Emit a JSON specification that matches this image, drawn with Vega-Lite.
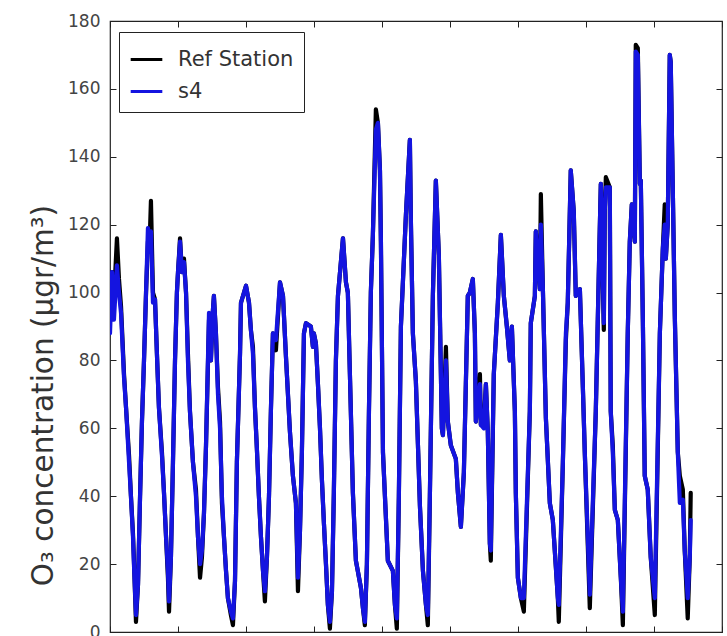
{
  "$schema": "https://vega.github.io/schema/vega-lite/v6.json",
  "width": 612,
  "height": 611,
  "autosize": {"type": "none"},
  "padding": {"left": 110, "top": 21, "right": 5, "bottom": 10},
  "background": "white",
  "config": {"view": {"stroke": "#222222", "strokeWidth": 1.2}, "font": "DejaVu Sans"},
  "data": {"values": [
    {"h":0,"s4":88,"ref":100},{"h":1.5,"s4":106,"ref":106},{"h":2.9,"s4":92,"ref":98},{"h":5.1,"s4":108,"ref":116},{"h":6.6,"s4":100,"ref":104},{"h":8.1,"s4":94,"ref":96},{"h":10.3,"s4":75,"ref":76},{"h":11.8,"s4":66,"ref":66},{"h":14.0,"s4":50,"ref":52},{"h":15.4,"s4":40,"ref":40},{"h":16.9,"s4":28,"ref":29},{"h":17.6,"s4":20,"ref":21},{"h":19.1,"s4":5,"ref":3},{"h":20.6,"s4":14,"ref":14},{"h":22.1,"s4":40,"ref":40},{"h":23.5,"s4":62,"ref":62},{"h":25.0,"s4":80,"ref":80},{"h":26.5,"s4":100,"ref":100},{"h":27.9,"s4":119,"ref":115},{"h":29.4,"s4":112,"ref":118},{"h":30.1,"s4":118,"ref":127},{"h":31.6,"s4":97,"ref":100},{"h":33.1,"s4":98,"ref":98},{"h":34.5,"s4":82,"ref":82},{"h":36.0,"s4":66,"ref":66},{"h":38.2,"s4":52,"ref":53},{"h":39.7,"s4":41,"ref":41},{"h":41.2,"s4":28,"ref":28},{"h":42.6,"s4":18,"ref":16},{"h":43.4,"s4":9,"ref":6},{"h":44.8,"s4":22,"ref":22},{"h":46.3,"s4":50,"ref":50},{"h":47.8,"s4":80,"ref":80},{"h":49.2,"s4":100,"ref":100},{"h":50.0,"s4":106,"ref":106},{"h":51.5,"s4":115,"ref":116},{"h":52.9,"s4":106,"ref":106},{"h":54.4,"s4":109,"ref":110},{"h":55.9,"s4":100,"ref":100},{"h":57.3,"s4":80,"ref":82},{"h":58.8,"s4":65,"ref":65},{"h":61.0,"s4":50,"ref":50},{"h":63.2,"s4":40,"ref":42},{"h":64.7,"s4":28,"ref":28},{"h":66.2,"s4":20,"ref":16},{"h":67.6,"s4":24,"ref":22},{"h":69.1,"s4":35,"ref":35},{"h":70.6,"s4":55,"ref":55},{"h":72.8,"s4":94,"ref":92},{"h":74.2,"s4":80,"ref":80},{"h":75.7,"s4":95,"ref":95},{"h":76.4,"s4":99,"ref":99},{"h":77.9,"s4":88,"ref":88},{"h":79.4,"s4":70,"ref":72},{"h":80.9,"s4":60,"ref":62},{"h":82.3,"s4":40,"ref":38},{"h":83.8,"s4":28,"ref":28},{"h":85.3,"s4":18,"ref":18},{"h":86.7,"s4":10,"ref":10},{"h":88.9,"s4":6,"ref":5},{"h":90.4,"s4":4,"ref":2},{"h":91.9,"s4":15,"ref":15},{"h":93.3,"s4":50,"ref":50},{"h":95.6,"s4":82,"ref":82},{"h":96.3,"s4":97,"ref":97},{"h":100.0,"s4":102,"ref":102},{"h":102.2,"s4":97,"ref":97},{"h":103.6,"s4":89,"ref":89},{"h":105.1,"s4":82,"ref":84},{"h":106.6,"s4":66,"ref":66},{"h":108.0,"s4":54,"ref":54},{"h":109.5,"s4":40,"ref":40},{"h":111.0,"s4":28,"ref":28},{"h":112.5,"s4":18,"ref":18},{"h":113.9,"s4":12,"ref":9},{"h":115.4,"s4":22,"ref":22},{"h":116.9,"s4":40,"ref":40},{"h":118.3,"s4":65,"ref":65},{"h":119.8,"s4":88,"ref":88},{"h":122.0,"s4":86,"ref":83},{"h":125.0,"s4":103,"ref":103},{"h":127.2,"s4":99,"ref":99},{"h":129.4,"s4":81,"ref":81},{"h":132.3,"s4":59,"ref":59},{"h":134.5,"s4":46,"ref":46},{"h":136.7,"s4":38,"ref":38},{"h":138.2,"s4":16,"ref":12},{"h":139.7,"s4":30,"ref":30},{"h":141.1,"s4":53,"ref":53},{"h":142.6,"s4":88,"ref":88},{"h":144.1,"s4":91,"ref":91},{"h":147.7,"s4":90,"ref":90},{"h":149.2,"s4":84,"ref":84},{"h":149.9,"s4":88,"ref":88},{"h":151.4,"s4":85,"ref":85},{"h":152.9,"s4":73,"ref":73},{"h":154.4,"s4":60,"ref":60},{"h":155.8,"s4":45,"ref":45},{"h":157.3,"s4":32,"ref":32},{"h":158.8,"s4":20,"ref":20},{"h":160.2,"s4":8,"ref":8},{"h":161.7,"s4":3,"ref":1},{"h":163.2,"s4":12,"ref":12},{"h":164.6,"s4":41,"ref":41},{"h":166.1,"s4":80,"ref":80},{"h":167.6,"s4":99,"ref":99},{"h":171.3,"s4":116,"ref":116},{"h":173.5,"s4":103,"ref":103},{"h":174.9,"s4":100,"ref":100},{"h":176.4,"s4":76,"ref":76},{"h":178.6,"s4":41,"ref":41},{"h":180.8,"s4":21,"ref":21},{"h":184.5,"s4":13,"ref":13},{"h":186.0,"s4":7,"ref":7},{"h":187.4,"s4":3,"ref":2},{"h":188.9,"s4":20,"ref":20},{"h":190.4,"s4":65,"ref":65},{"h":191.8,"s4":100,"ref":100},{"h":193.3,"s4":117,"ref":117},{"h":195.5,"s4":148,"ref":154},{"h":197.0,"s4":150,"ref":150},{"h":198.5,"s4":136,"ref":136},{"h":199.2,"s4":115,"ref":115},{"h":200.7,"s4":53,"ref":53},{"h":204.3,"s4":21,"ref":21},{"h":208.0,"s4":18,"ref":18},{"h":209.5,"s4":8,"ref":8},{"h":210.9,"s4":4,"ref":1},{"h":212.4,"s4":40,"ref":40},{"h":213.9,"s4":90,"ref":90},{"h":217.6,"s4":123,"ref":123},{"h":220.5,"s4":145,"ref":145},{"h":221.2,"s4":122,"ref":122},{"h":222.7,"s4":88,"ref":88},{"h":224.9,"s4":74,"ref":74},{"h":227.9,"s4":37,"ref":37},{"h":230.1,"s4":18,"ref":18},{"h":232.3,"s4":8,"ref":8},{"h":233.7,"s4":5,"ref":2},{"h":235.2,"s4":40,"ref":40},{"h":237.4,"s4":99,"ref":99},{"h":239.6,"s4":133,"ref":133},{"h":241.8,"s4":111,"ref":111},{"h":244.0,"s4":60,"ref":60},{"h":244.8,"s4":58,"ref":58},{"h":247.0,"s4":80,"ref":84},{"h":248.4,"s4":62,"ref":62},{"h":250.6,"s4":55,"ref":55},{"h":254.3,"s4":51,"ref":51},{"h":255.8,"s4":41,"ref":41},{"h":258.0,"s4":31,"ref":31},{"h":260.2,"s4":47,"ref":47},{"h":263.1,"s4":99,"ref":99},{"h":264.6,"s4":100,"ref":100},{"h":266.8,"s4":104,"ref":104},{"h":268.3,"s4":88,"ref":88},{"h":269.0,"s4":62,"ref":62},{"h":272.0,"s4":73,"ref":76},{"h":272.7,"s4":61,"ref":61},{"h":274.9,"s4":60,"ref":62},{"h":276.4,"s4":73,"ref":73},{"h":277.8,"s4":59,"ref":59},{"h":279.3,"s4":26,"ref":26},{"h":280.0,"s4":24,"ref":21},{"h":282.2,"s4":76,"ref":76},{"h":285.2,"s4":97,"ref":97},{"h":287.4,"s4":117,"ref":117},{"h":289.6,"s4":99,"ref":99},{"h":291.8,"s4":90,"ref":90},{"h":294.0,"s4":80,"ref":80},{"h":295.5,"s4":90,"ref":90},{"h":297.7,"s4":65,"ref":65},{"h":298.4,"s4":41,"ref":41},{"h":299.9,"s4":16,"ref":16},{"h":302.1,"s4":10,"ref":10},{"h":304.3,"s4":10,"ref":6},{"h":308.7,"s4":65,"ref":65},{"h":309.4,"s4":91,"ref":91},{"h":312.4,"s4":99,"ref":99},{"h":313.1,"s4":118,"ref":118},{"h":316.1,"s4":101,"ref":101},{"h":316.8,"s4":120,"ref":129},{"h":318.3,"s4":101,"ref":101},{"h":320.5,"s4":63,"ref":63},{"h":323.4,"s4":38,"ref":38},{"h":325.6,"s4":33,"ref":33},{"h":329.3,"s4":10,"ref":10},{"h":330.0,"s4":8,"ref":3},{"h":333.0,"s4":50,"ref":50},{"h":335.2,"s4":88,"ref":86},{"h":336.6,"s4":97,"ref":97},{"h":338.8,"s4":136,"ref":136},{"h":341.0,"s4":124,"ref":124},{"h":342.5,"s4":99,"ref":99},{"h":345.5,"s4":101,"ref":101},{"h":347.7,"s4":72,"ref":72},{"h":349.1,"s4":53,"ref":53},{"h":352.8,"s4":11,"ref":7},{"h":357.2,"s4":65,"ref":65},{"h":360.2,"s4":120,"ref":120},{"h":360.9,"s4":132,"ref":132},{"h":363.1,"s4":91,"ref":89},{"h":363.8,"s4":124,"ref":124},{"h":364.6,"s4":131,"ref":134},{"h":367.5,"s4":131,"ref":131},{"h":368.2,"s4":65,"ref":65},{"h":369.7,"s4":53,"ref":55},{"h":371.2,"s4":36,"ref":36},{"h":373.4,"s4":33,"ref":33},{"h":375.6,"s4":16,"ref":16},{"h":377.1,"s4":6,"ref":2},{"h":380.7,"s4":88,"ref":88},{"h":382.2,"s4":115,"ref":115},{"h":383.7,"s4":126,"ref":126},{"h":385.9,"s4":115,"ref":115},{"h":386.6,"s4":171,"ref":173},{"h":388.1,"s4":170,"ref":172},{"h":389.6,"s4":132,"ref":132},{"h":390.3,"s4":133,"ref":133},{"h":391.8,"s4":92,"ref":92},{"h":393.2,"s4":46,"ref":46},{"h":395.4,"s4":42,"ref":42},{"h":397.6,"s4":22,"ref":22},{"h":400.6,"s4":10,"ref":5},{"h":404.3,"s4":88,"ref":88},{"h":406.5,"s4":113,"ref":113},{"h":407.9,"s4":120,"ref":126},{"h":408.7,"s4":110,"ref":110},{"h":410.1,"s4":120,"ref":120},{"h":411.6,"s4":170,"ref":170},{"h":412.3,"s4":168,"ref":168},{"h":413.8,"s4":131,"ref":131},{"h":415.3,"s4":93,"ref":93},{"h":417.5,"s4":53,"ref":53},{"h":419.0,"s4":38,"ref":46},{"h":421.2,"s4":39,"ref":42},{"h":422.6,"s4":24,"ref":24},{"h":424.8,"s4":10,"ref":4},{"h":426.3,"s4":22,"ref":22},{"h":427.0,"s4":33,"ref":41}
  ]},
  "transform": [{"fold": ["ref", "s4"], "as": ["series", "value"]}],
  "layer": [
    {
      "mark": {"type": "line", "strokeWidth": 4.2, "strokeJoin": "round", "strokeCap": "round", "clip": true},
      "encoding": {
        "x": {"field": "h", "type": "quantitative", "scale": {"domain": [0, 450], "nice": false},
              "axis": {"orient": "bottom", "values": [0,50,100,150,200,250,300,350,400,450], "labels": false, "title": null, "domain": false, "grid": false, "tickSize": -6, "tickColor": "#222222"}},
        "y": {"field": "value", "type": "quantitative", "scale": {"domain": [0, 180], "nice": false},
              "axis": {"orient": "left", "values": [0,20,40,60,80,100,120,140,160,180], "domain": false, "grid": false, "tickSize": -6, "tickColor": "#222222",
                       "labelFontSize": 17, "labelColor": "#444444", "labelPadding": 16, "labelFont": "DejaVu Sans",
                       "title": "O₃ concentration (μgr/m³)", "titleFontSize": 29.5, "titleFontWeight": "normal", "titleColor": "#333333", "titleFont": "DejaVu Sans", "titlePadding": 9, "titleY": 374}},
        "color": {"field": "series", "type": "nominal",
                  "scale": {"domain": ["ref", "s4"], "range": ["#000000", "#1414e0"]},
                  "legend": {"orient": "none", "legendX": 9, "legendY": 11, "title": null, "symbolType": "stroke", "symbolSize": 1000, "symbolStrokeWidth": 3,
                             "labelFontSize": 21, "labelFont": "DejaVu Sans", "labelColor": "#333333", "strokeColor": "#222222", "fillColor": "white",
                             "padding": 10, "rowPadding": 4, "labelOffset": 14,
                             "labelExpr": "datum.label == 'ref' ? 'Ref Station' : 's4'"}}
      }
    },
    {
      "mark": {"type": "line", "opacity": 0},
      "encoding": {
        "x": {"field": "h", "type": "quantitative",
              "axis": {"orient": "top", "values": [0,50,100,150,200,250,300,350,400,450], "labels": false, "title": null, "domain": false, "grid": false, "tickSize": -6, "tickColor": "#222222"}},
        "y": {"field": "value", "type": "quantitative",
              "axis": {"orient": "right", "values": [0,20,40,60,80,100,120,140,160,180], "labels": false, "title": null, "domain": false, "grid": false, "tickSize": -6, "tickColor": "#222222"}},
        "detail": {"field": "series", "type": "nominal"}
      }
    }
  ],
  "resolve": {"axis": {"x": "independent", "y": "independent"}}
}
